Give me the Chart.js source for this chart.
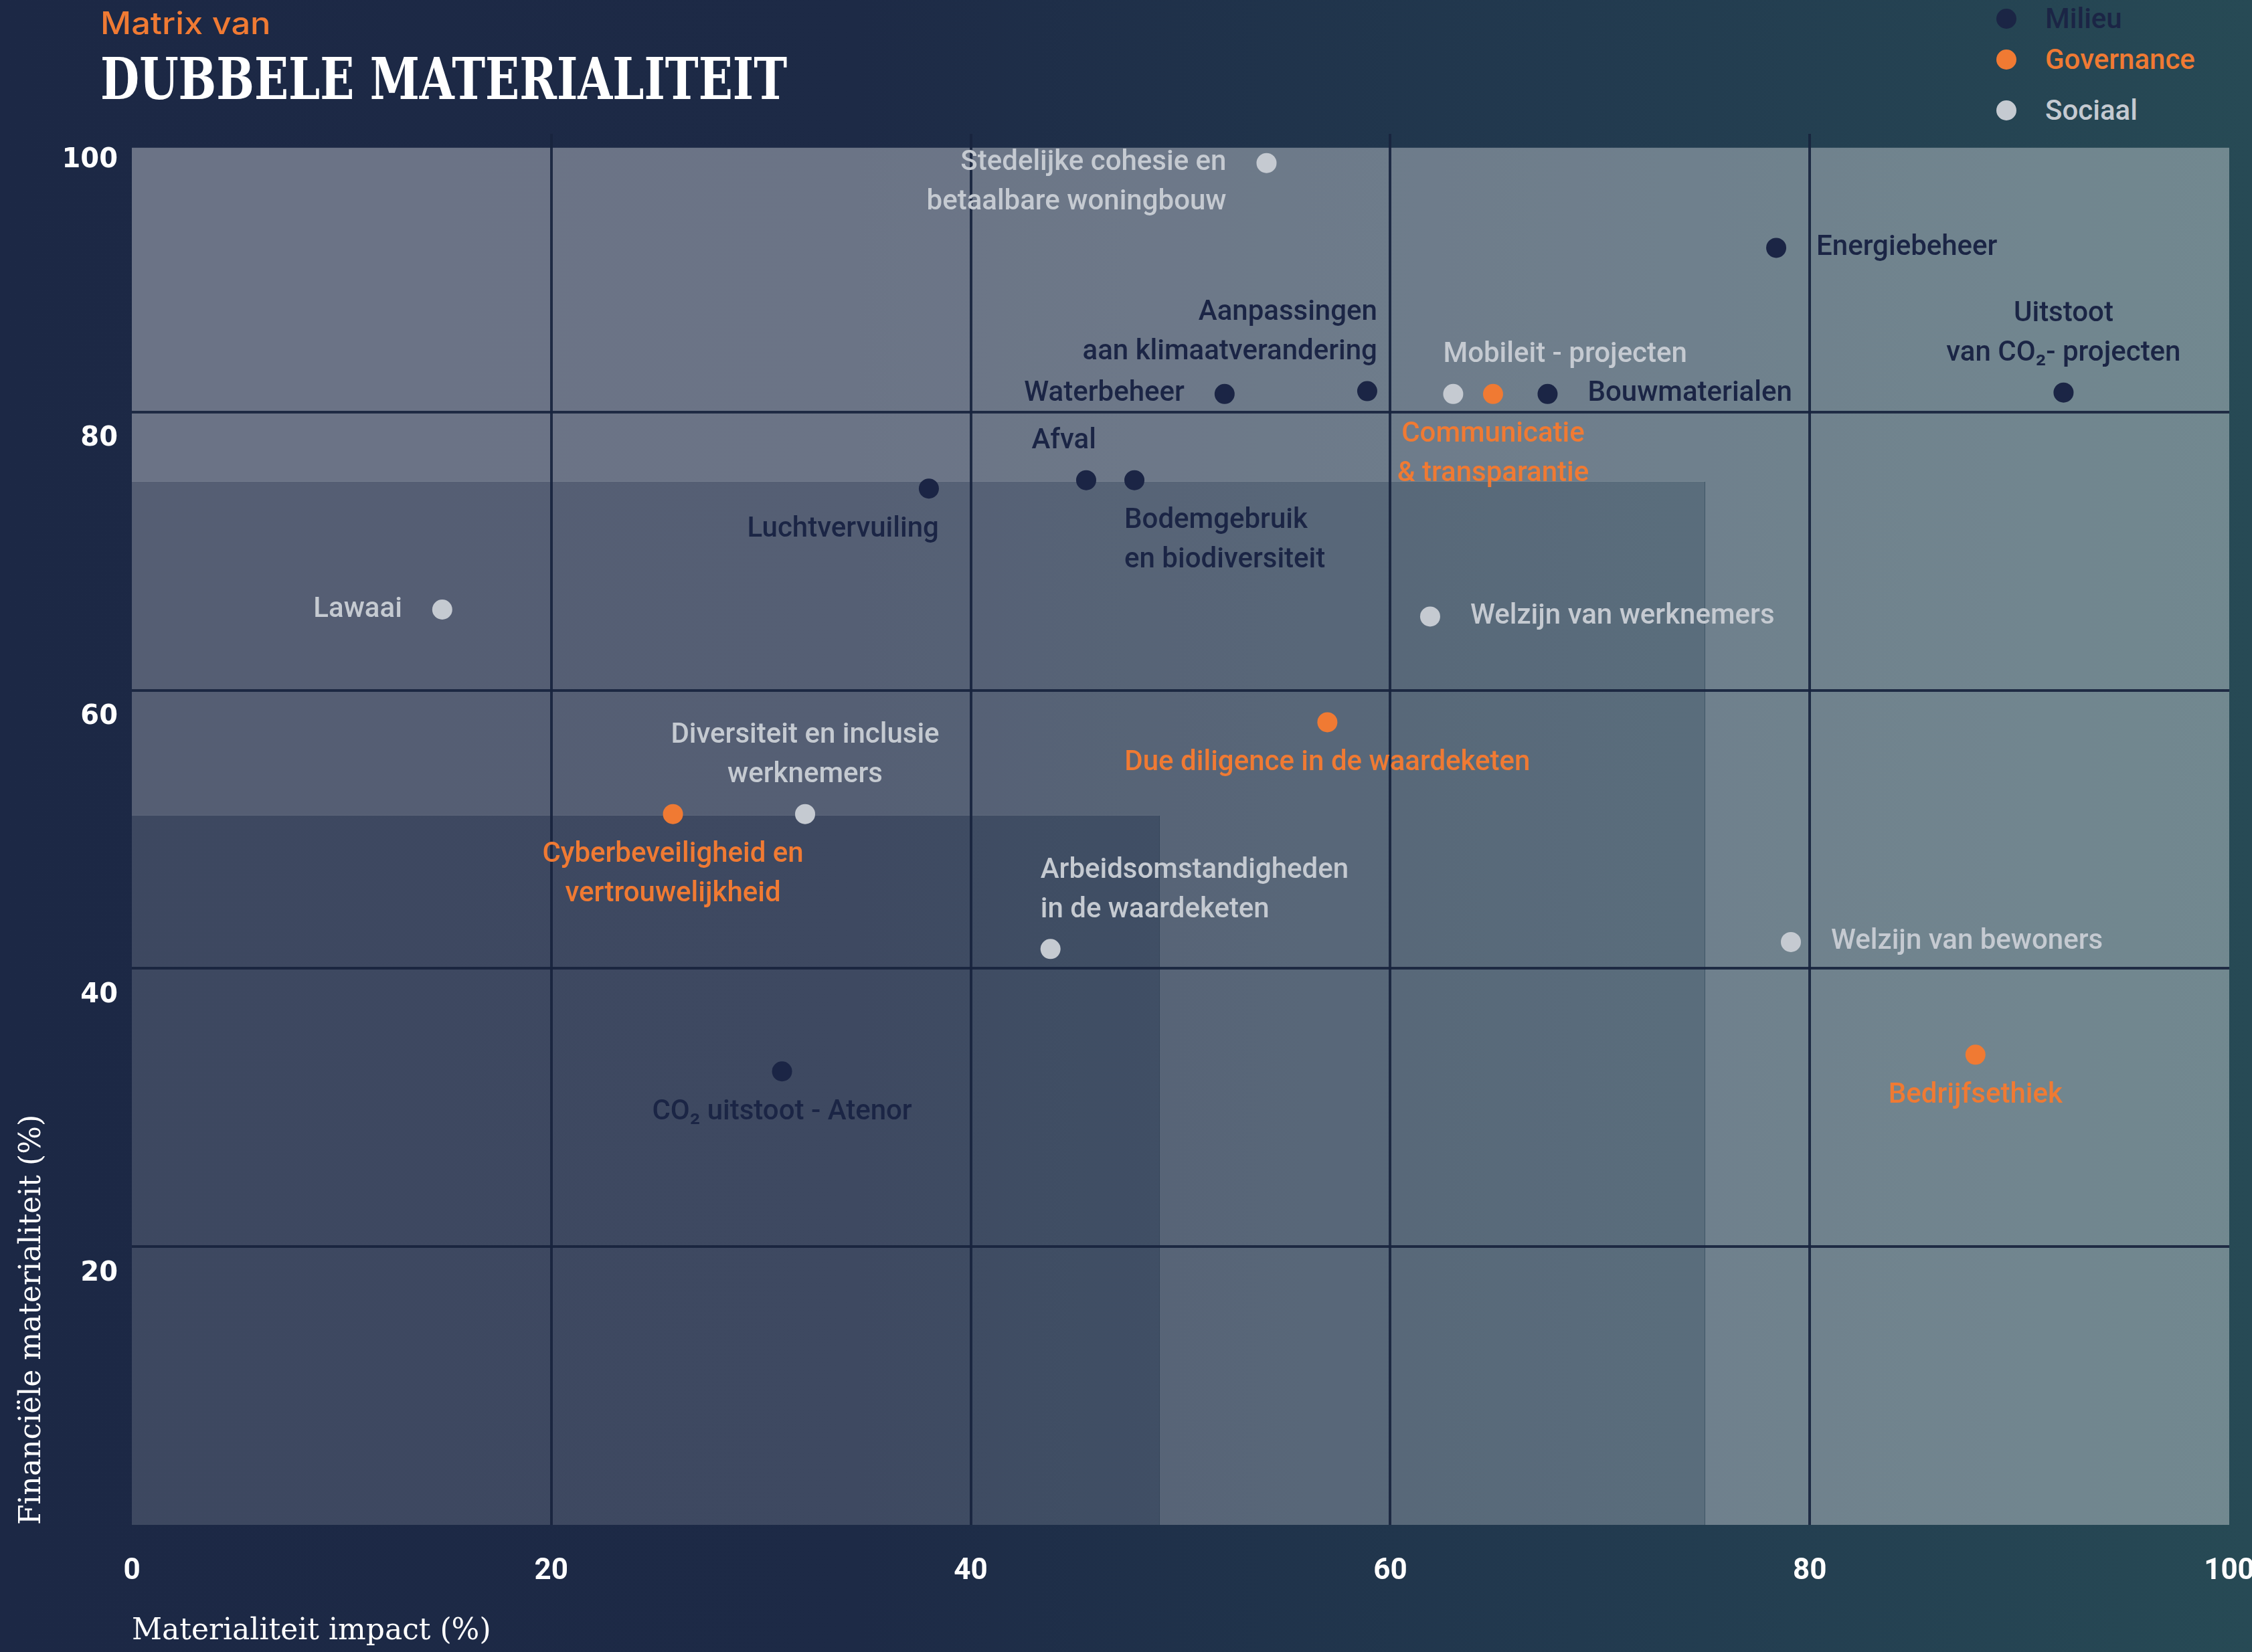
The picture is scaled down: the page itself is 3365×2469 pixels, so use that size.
<!DOCTYPE html>
<html lang="nl">
<head>
<meta charset="utf-8">
<title>Matrix van dubbele materialiteit</title>
<script src="https://cdn.jsdelivr.net/npm/chart.js@4.4.1/dist/chart.umd.min.js"></script>
<style>
  html, body { margin: 0; padding: 0; }
  body {
    width: 3365px; height: 2469px; overflow: hidden; position: relative;
    background: linear-gradient(90deg, #1c2845 0%, #1d2a46 38%, #223a4f 70%, #274a55 100%);
    font-family: Roboto, sans-serif;
  }
  #matrix { position: absolute; left: 0; top: 0; }
  .kicker {
    position: absolute; left: 150px; top: 11px; white-space: nowrap;
    color: #f07a33; font: 500 46px/46px Inter, sans-serif; transform-origin: left top;
  }
  .title {
    position: absolute; left: 150px; top: 75px; white-space: nowrap;
    color: #fff; font: bold 86px/86px "DejaVu Serif", serif; transform-origin: left top;
  }
  .legend { position: absolute; left: 2983px; top: 0; }
  .legend .item { position: absolute; left: 0; height: 40px; white-space: nowrap; }
  .legend .dot { position: absolute; left: 0; top: 5px; width: 30px; height: 30px; border-radius: 50%; }
  .legend .txt { position: absolute; left: 73px; top: 0; font: 500 42px/40px Roboto, sans-serif; }
</style>
</head>
<body>
<div class="kicker" id="kicker">Matrix van</div>
<div class="title" id="title">DUBBELE MATERIALITEIT</div>
<div class="legend" id="legend"></div>
<canvas id="matrix" width="3365" height="2469"></canvas>
<script>
// categorieën en kleuren
const categories = ['Milieu', 'Governance', 'Sociaal'];
const seriesColors = ['#1b2545', '#f07a33', '#c5cad1'];

// Milieu
const milieuTopics = ['Energiebeheer', 'Uitstoot\nvan CO₂- projecten', 'Bouwmaterialen', 'Aanpassingen\naan klimaatverandering', 'Waterbeheer', 'Afval', 'Bodemgebruik\nen biodiversiteit', 'Luchtvervuiling', 'CO₂ uitstoot - Atenor'];
const milieuImpact = [78.4, 92.1, 67.5, 58.9, 52.1, 45.5, 47.8, 38.0, 31.0];
const milieuFinancial = [91.8, 81.4, 81.3, 81.5, 81.3, 75.1, 75.1, 74.5, 32.6];

// Governance
const governanceTopics = ['Communicatie\n& transparantie', 'Due diligence in de waardeketen', 'Cyberbeveiligheid en\nvertrouwelijkheid', 'Bedrijfsethiek'];
const governanceImpact = [64.9, 57.0, 25.8, 87.9];
const governanceFinancial = [81.3, 57.7, 51.1, 33.8];

// Sociaal
const sociaalTopics = ['Stedelijke cohesie en\nbetaalbare woningbouw', 'Mobileit - projecten', 'Welzijn van werknemers', 'Lawaai', 'Diversiteit en inclusie\nwerknemers', 'Arbeidsomstandigheden\nin de waardeketen', 'Welzijn van bewoners'];
const sociaalImpact = [54.1, 63.0, 61.9, 14.8, 32.1, 43.8, 79.1];
const sociaalFinancial = [97.9, 81.3, 65.3, 65.8, 51.1, 41.4, 41.9];

// as-ticks
const axisTicks = [0, 20, 40, 60, 80, 100];

// zones (grens impact, grens financieel)
const zoneImpact = [100, 75, 49];
const zoneFinancial = [99, 75, 51];

// waar het label staat t.o.v. het punt
const milieuLabelPos = ['right', 'above', 'right', 'aboveLeft', 'left', 'aboveLeft', 'belowRight', 'belowLeft', 'below'];
const governanceLabelPos = ['below', 'below', 'below', 'below'];
const sociaalLabelPos = ['left', 'aboveRight', 'right', 'left', 'above', 'aboveRight', 'right'];

const zoneAlpha = [0.35, 0.25, 0.15];
const GAP = 60, NUDGE = 15, LINE = 59, ABOVE = 58, BELOW = 61;

function toPoints(xs, ys) {
  return xs.map((x, i) => ({ x: x, y: ys[i] }));
}

const series = [
  { topics: milieuTopics, pos: milieuLabelPos, data: toPoints(milieuImpact, milieuFinancial) },
  { topics: governanceTopics, pos: governanceLabelPos, data: toPoints(governanceImpact, governanceFinancial) },
  { topics: sociaalTopics, pos: sociaalLabelPos, data: toPoints(sociaalImpact, sociaalFinancial) }
];

// legenda
const legend = document.getElementById('legend');
const legendTops = [8, 69, 145];
categories.forEach((c, i) => {
  const item = document.createElement('div');
  item.className = 'item';
  item.style.top = legendTops[i] + 'px';
  item.innerHTML = `<span class="dot" style="background:${seriesColors[i]}"></span><span class="txt" style="color:${seriesColors[i]}">${c}</span>`;
  legend.appendChild(item);
});

// titels op breedte brengen
function fitWidth(id, w) {
  const el = document.getElementById(id);
  el.style.transform = `scaleX(${w / el.scrollWidth})`;
}
fitWidth('kicker', 255);
fitWidth('title', 1026);

function placeLabel(pos, x, y, n) {
  const up = y - ABOVE - (n - 1) * LINE;
  switch (pos) {
    case 'right': return { x: x + GAP, y0: y, align: 'left' };
    case 'left': return { x: x - GAP, y0: y, align: 'right' };
    case 'above': return { x: x, y0: up, align: 'center' };
    case 'below': return { x: x, y0: y + BELOW, align: 'center' };
    case 'aboveLeft': return { x: x + NUDGE, y0: up, align: 'right' };
    case 'aboveRight': return { x: x - NUDGE, y0: up, align: 'left' };
    case 'belowLeft': return { x: x + NUDGE, y0: y + BELOW, align: 'right' };
    case 'belowRight': return { x: x - NUDGE, y0: y + BELOW, align: 'left' };
  }
}

const zonesPlugin = {
  id: 'zones',
  beforeDraw(chart) {
    const { ctx, scales: { x, y } } = chart;
    ctx.save();
    zoneImpact.forEach((zx, i) => {
      const left = x.getPixelForValue(0);
      const right = x.getPixelForValue(zx);
      const top = y.getPixelForValue(zoneFinancial[i]);
      const bottom = y.getPixelForValue(0);
      ctx.clearRect(left, top, right - left, bottom - top);
      ctx.fillStyle = `rgba(255,255,255,${zoneAlpha[i]})`;
      ctx.fillRect(left, top, right - left, bottom - top);
    });
    ctx.restore();
  }
};

const labelsPlugin = {
  id: 'pointLabels',
  afterDatasetsDraw(chart) {
    const ctx = chart.ctx;
    ctx.save();
    ctx.font = '500 42px Roboto';
    ctx.textBaseline = 'middle';
    chart.data.datasets.forEach((ds, d) => {
      const meta = chart.getDatasetMeta(d);
      ctx.fillStyle = seriesColors[d];
      meta.data.forEach((pt, i) => {
        const lines = series[d].topics[i].split('\n');
        const p = placeLabel(series[d].pos[i], pt.x, pt.y, lines.length);
        ctx.textAlign = p.align;
        lines.forEach((l, k) => ctx.fillText(l, p.x, p.y0 + k * LINE));
      });
    });
    ctx.restore();
  }
};

const tickVal = c => (c.tick ? c.tick.value : null);
const gridColor = c => (tickVal(c) === 0 || tickVal(c) === 100) ? 'rgba(0,0,0,0)' : 'rgba(24,36,62,0.92)';

new Chart(document.getElementById('matrix'), {
  type: 'scatter',
  data: {
    datasets: categories.map((c, i) => ({
      label: c,
      data: series[i].data,
      backgroundColor: seriesColors[i],
      borderWidth: 0,
      pointRadius: 15,
      pointHoverRadius: 15
    }))
  },
  options: {
    responsive: false,
    animation: false,
    devicePixelRatio: 1,
    layout: { padding: { top: 200, right: 34, left: 0, bottom: 0 } },
    plugins: { legend: { display: false }, tooltip: { enabled: false } },
    scales: {
      x: {
        type: 'linear', position: 'bottom', min: 0, max: 100,
        afterBuildTicks: s => { s.ticks = axisTicks.map(v => ({ value: v })); },
        afterFit: s => { s.height = 190; s.paddingLeft = 0; s.paddingRight = 0; },
        border: { display: false },
        grid: { color: gridColor, lineWidth: 4, drawTicks: false },
        ticks: { color: '#ffffff', padding: 44, font: { family: 'Roboto', weight: 'bold', size: 44 } },
        title: {
          display: true, text: 'Materialiteit impact (%)', align: 'start', color: '#ffffff',
          font: { family: 'DejaVu Serif', size: 44 }, padding: { bottom: 4 }
        }
      },
      y: {
        type: 'linear', min: 0, max: 100,
        afterBuildTicks: s => { s.ticks = axisTicks.map(v => ({ value: v })); },
        afterFit: s => { s.width = 197; s.paddingTop = 0; s.paddingBottom = 0; },
        border: { display: false },
        grid: { color: gridColor, lineWidth: 4, drawTicks: false },
        ticks: {
          color: '#ffffff', padding: 21, labelOffset: 40,
          font: { family: 'DejaVu Sans', weight: 'bold', size: 40 },
          callback: v => v === 0 ? '' : v
        },
        title: {
          display: true, text: 'Financiële materialiteit (%)', align: 'start', color: '#ffffff',
          font: { family: 'DejaVu Serif', size: 44 }, padding: { top: 22 }
        }
      }
    }
  },
  plugins: [zonesPlugin, labelsPlugin]
});
</script>
</body>
</html>
